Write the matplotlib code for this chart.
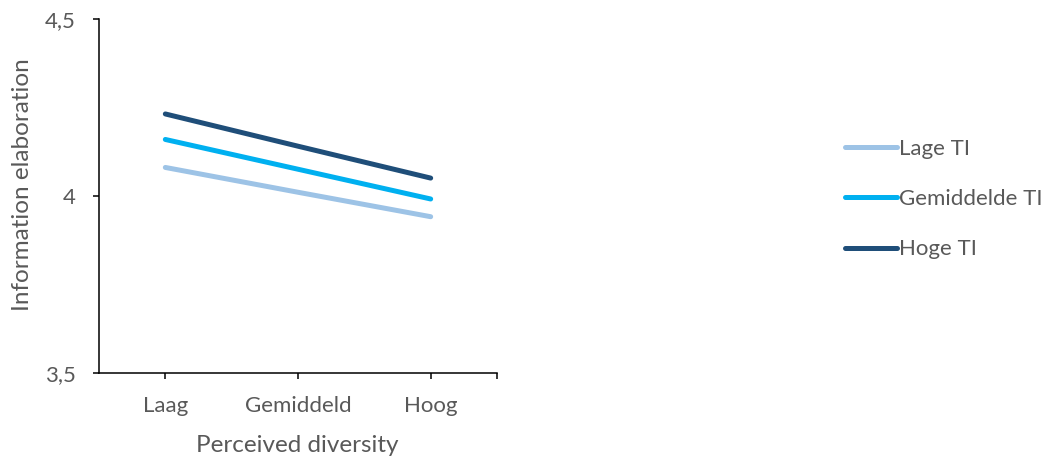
import matplotlib
matplotlib.use("Agg")
import matplotlib.pyplot as plt
from matplotlib.lines import Line2D

categories = ["Laag", "Gemiddeld", "Hoog"]
series_names = ["Lage TI", "Gemiddelde TI", "Hoge TI"]
lage_ti = [4.081, 4.011, 3.942]
gemiddelde_ti = [4.160, 4.076, 3.992]
hoge_ti = [4.232, 4.141, 4.051]
y_ticks = [3.5, 4.0, 4.5]
y_tick_labels = ["3,5", "4", "4,5"]

colors = ["#9DC3E6", "#00B0F0", "#1F4E79"]
text_color = "#595959"

plt.rcParams["font.family"] = ["Lato", "DejaVu Sans"]

W, H = 1045, 459
fig = plt.figure(figsize=(W / 100, H / 100), dpi=100)
ax = fig.add_axes([99 / W, 1 - 373.3 / H, (497 - 99) / W, (373.3 - 19) / H])

x = list(range(len(categories)))
for vals, name, col in zip([lage_ti, gemiddelde_ti, hoge_ti], series_names, colors):
    ax.plot(x, vals, color=col, lw=3.6, solid_capstyle="round", label=name)

ax.set_xlim(-0.5, 2.5)
ax.set_ylim(3.5, 4.5)
ax.set_xticks(x)
ax.set_xticklabels(categories)
ax.set_xticks([2.5], minor=True)
ax.set_yticks(y_ticks)
ax.set_yticklabels(y_tick_labels)

for s in ["top", "right"]:
    ax.spines[s].set_visible(False)
for s in ["left", "bottom"]:
    ax.spines[s].set_linewidth(1.1)
    ax.spines[s].set_color("black")

ax.tick_params(axis="both", which="both", direction="out", length=4.5, width=1.1,
               colors="black", labelcolor=text_color, labelsize=16)
ax.tick_params(axis="x", pad=12)
ax.tick_params(axis="y", pad=12)

ax.set_xlabel("Perceived diversity", fontsize=17.5, color=text_color)
ax.set_ylabel("Information elaboration", fontsize=17.5, color=text_color)
ax.xaxis.set_label_coords(297 / W, 1 - 435 / H, transform=fig.transFigure)
ax.yaxis.set_label_coords(33 / W, 1 - 185 / H, transform=fig.transFigure)

handles = [Line2D([0], [0], color=c, lw=3.6, solid_capstyle="round") for c in colors]
fig.legend(handles, series_names, loc="center left", bbox_to_anchor=(845 / W, 1 - 199 / H),
           frameon=False, fontsize=16, labelcolor=text_color, handlelength=2.35,
           handletextpad=0.1, labelspacing=1.37, borderpad=0, borderaxespad=0)

fig.savefig("out.png", dpi=100)
